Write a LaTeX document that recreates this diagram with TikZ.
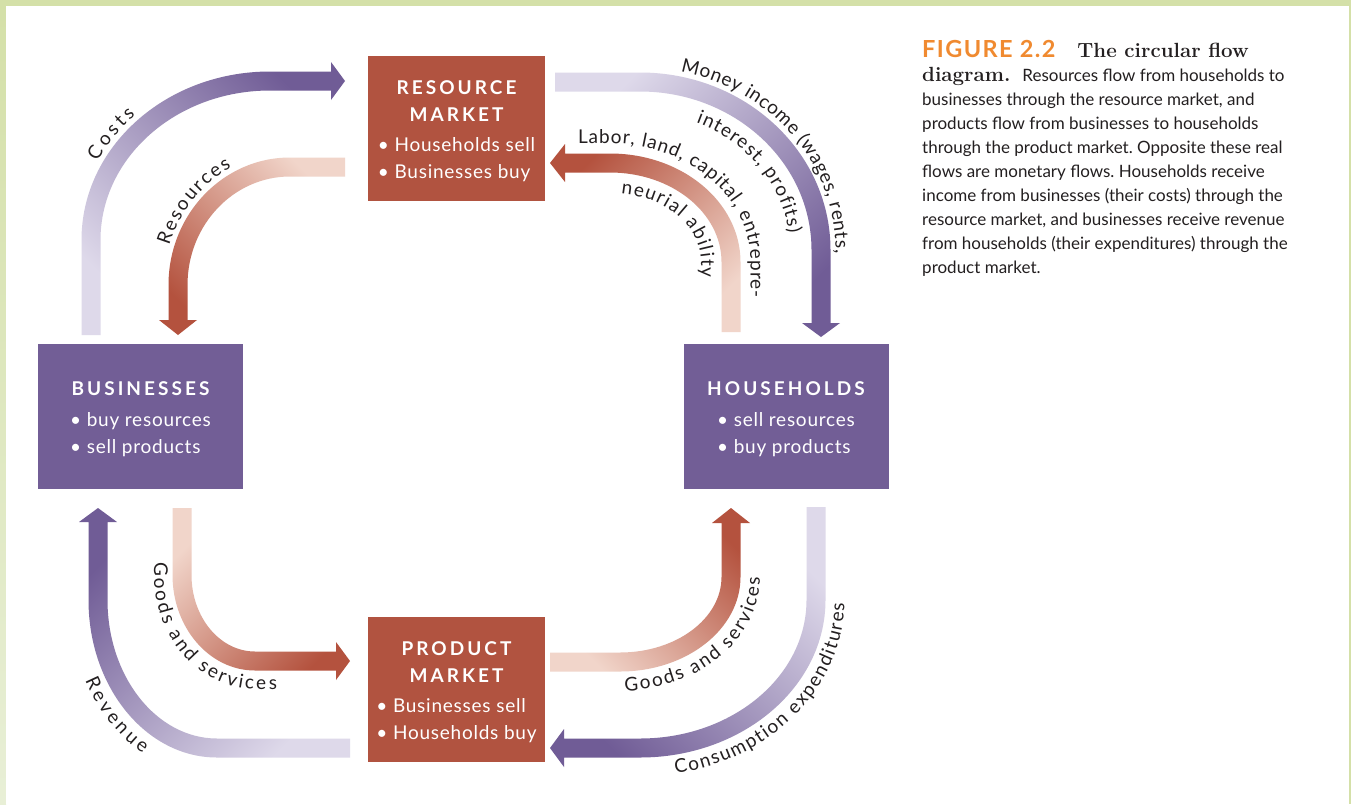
\documentclass[tikz,border=0pt]{standalone}
\usepackage{fontspec}
\newfontfamily\boxfont{Lato}[LetterSpace=4]
\newfontfamily\headfont{Lato}[LetterSpace=16]
\newfontfamily\figfont{Lato}[LetterSpace=6]
\newfontfamily\capfont{Lato}
\newfontfamily\labelfont{Lato}
\usetikzlibrary{decorations.text}

\definecolor{mktred}{RGB}{177,83,64}
\definecolor{secpurple}{RGB}{114,94,150}
\definecolor{flowpurple}{RGB}{112,92,150}
\definecolor{flowlilac}{RGB}{222,217,234}
\definecolor{flowred}{RGB}{180,82,62}
\definecolor{flowpink}{RGB}{241,213,202}
\definecolor{figorange}{RGB}{240,138,48}
\definecolor{inkgray}{RGB}{35,31,32}
\definecolor{framegreen}{RGB}{212,224,168}
\definecolor{framepale}{RGB}{232,239,214}

\newcommand\lblfont{\labelfont\fontsize{19}{22}\selectfont}
\newcommand\boxhead[1]{{\headfont\bfseries #1}}
\newcommand\capserif[1]{{\rmfamily\bfseries\fontsize{20.5}{24}\selectfont #1}}

\tikzset{
  market/.style={rectangle, fill=mktred, text=white, minimum width=177pt, minimum height=145pt, inner sep=0pt, align=center, font=\boxfont\fontsize{19}{27}\selectfont},
  sector/.style={market, fill=secpurple, minimum width=205pt},
  flowtext/.style={decorate, decoration={text along path, text align=fit to path, text color=inkgray}}
}

\begin{document}
\frenchspacing
\begin{tikzpicture}[x=1pt, y=-1pt]
\useasboundingbox (0,0) rectangle (1351,804);
\fill [framegreen] (0,0) rectangle (1351,804);
\shade [top color=framegreen, bottom color=framepale] (0,0) rectangle (6,804);
\fill [white] (6,6) rectangle (1349,804);

\node [market] (rm) at (456.5,128.5) {\rule{0pt}{25pt}\boxhead{RESOURCE}\\\boxhead{MARKET}\\[3pt]\begin{tabular}[t]{@{}l@{}}• Households sell\\• Businesses buy\end{tabular}};
\node [sector] (biz) at (140.5,416.5) {\rule{0pt}{25pt}\boxhead{BUSINESSES}\\[4pt]\begin{tabular}[t]{@{}l@{}}• buy resources\\• sell products\end{tabular}};
\node [sector] (hh) at (786,416.5) {\rule{0pt}{25pt}\boxhead{HOUSEHOLDS}\\[4pt]\begin{tabular}[t]{@{}l@{}}• sell resources\\• buy products\end{tabular}};
\node [market] (pm) at (456.5,689.5) {\rule{0pt}{25pt}\boxhead{PRODUCT}\\\boxhead{MARKET}\\[3pt]\begin{tabular}[t]{@{}l@{}}• Businesses sell\\• Households buy\end{tabular}};

\shade [bottom color=flowlilac, top color=flowpurple, shading angle=-45] (81.5,335) -- (81.5,240) arc [start angle=180, end angle=270, x radius=188.5, y radius=168.5] -- (331,71.5) -- (331,62) -- (345,81) -- (331,100) -- (331,90.5) -- (270,90.5) arc [start angle=270, end angle=180, x radius=169.5, y radius=149.5] -- (100.5,335) -- cycle;
\shade [top color=flowpink, bottom color=flowred, shading angle=-45] (345,157.5) -- (290,157.5) arc [start angle=270, end angle=180, x radius=121.5, y radius=127.5] -- (168.5,320) -- (159,320) -- (178,335) -- (197,320) -- (187.5,320) -- (187.5,285) arc [start angle=180, end angle=270, x radius=102.5, y radius=108.5] -- (345,176.5) -- cycle;
\shade [top color=flowlilac, bottom color=flowpurple, shading angle=45] (555,72.5) -- (640,72.5) arc [start angle=270, end angle=360, x radius=190.5, y radius=177.5] -- (830.5,323) -- (840,323) -- (821,337) -- (802,323) -- (811.5,323) -- (811.5,250) arc [start angle=0, end angle=-90, x radius=171.5, y radius=158.5] -- (555,91.5) -- cycle;
\shade [top color=flowred, bottom color=flowpink, shading angle=45] (740.5,332) -- (740.5,262) arc [start angle=0, end angle=-90, x radius=130.5, y radius=108.5] -- (565,153.5) -- (565,144) -- (550,163) -- (565,182) -- (565,172.5) -- (610,172.5) arc [start angle=270, end angle=360, x radius=111.5, y radius=89.5] -- (721.5,332) -- cycle;
\shade [top color=flowpink, bottom color=flowred, shading angle=45] (172.5,508) -- (172.5,575) arc [start angle=180, end angle=90, x radius=82.5, y radius=95.5] -- (336,670.5) -- (336,680) -- (350,661) -- (336,642) -- (336,651.5) -- (255,651.5) arc [start angle=90, end angle=180, x radius=63.5, y radius=76.5] -- (191.5,508) -- cycle;
\shade [top color=flowpurple, bottom color=flowlilac, shading angle=45] (350,757.5) -- (217,757.5) arc [start angle=90, end angle=180, x radius=128.5, y radius=157.5] -- (88.5,522) -- (79,522) -- (98,508) -- (117,522) -- (107.5,522) -- (107.5,600) arc [start angle=180, end angle=90, x radius=109.5, y radius=138.5] -- (350,738.5) -- cycle;
\shade [top color=flowred, bottom color=flowpink, shading angle=-45] (550,671.5) -- (620,671.5) arc [start angle=90, end angle=0, x radius=120.5, y radius=94.5] -- (740.5,523) -- (750,523) -- (731,508) -- (712,523) -- (721.5,523) -- (721.5,577) arc [start angle=0, end angle=90, x radius=101.5, y radius=75.5] -- (550,652.5) -- cycle;
\shade [top color=flowlilac, bottom color=flowpurple, shading angle=-45] (825.5,507) -- (825.5,600) arc [start angle=0, end angle=90, x radius=185.5, y radius=157.5] -- (564,757.5) -- (564,767) -- (550,748) -- (564,729) -- (564,738.5) -- (640,738.5) arc [start angle=90, end angle=0, x radius=166.5, y radius=138.5] -- (806.5,507) -- cycle;

\path [flowtext, decoration={text={|\lblfont|Costs}}] ([shift={(207:193.5 and 173.5)}]270,240) arc [start angle=207, end angle=226, x radius=193.5, y radius=173.5];
\path [flowtext, decoration={text={|\lblfont|Resources}}] ([shift={(197.5:126.5 and 132.5)}]290,285) arc [start angle=197.5, end angle=242.5, x radius=126.5, y radius=132.5];
\path [flowtext, decoration={text={|\lblfont|Money income (wages, rents,}}] ([shift={(282:195.5 and 182.5)}]640,250) arc [start angle=282, end angle=361, x radius=195.5, y radius=182.5];
\path [flowtext, decoration={text={|\lblfont|interest, profits)}}] ([shift={(292:150 and 137)}]640,250) arc [start angle=292, end angle=353, x radius=150, y radius=137];
\path [flowtext, decoration={text={|\lblfont|Labor, land, capital, entrepre-}}] (578,143.5) -- (610,143.5) arc [start angle=270, end angle=360, x radius=140.5, y radius=118.5] -- (750.5,298);
\path [flowtext, decoration={text={|\lblfont|neurial ability}}] ([shift={(277:91 and 69)}]610,262) arc [start angle=277, end angle=360, x radius=91, y radius=69] -- (701,277);
\path [flowtext, decoration={text={|\lblfont|Goods and services}}] (154,562) -- (154,575) arc [start angle=180, end angle=90, x radius=101, y radius=114] -- (277,689);
\path [flowtext, decoration={text={|\lblfont|Revenue}}] ([shift={(153:148 and 177)}]217,600) arc [start angle=153, end angle=120, x radius=148, y radius=177];
\path [flowtext, decoration={text={|\lblfont|Goods and services}}] ([shift={(88:140 and 114)}]620,577) arc [start angle=88, end angle=0, x radius=140, y radius=114];
\path [flowtext, decoration={text={|\lblfont|Consumption expenditures}}] ([shift={(80:204.5 and 176.5)}]640,600) arc [start angle=80, end angle=1, x radius=204.5, y radius=176.5];

\node [anchor=north west, inner sep=0pt, align=left, text=inkgray, font=\capfont\fontsize{17}{24}\selectfont] (caption) at (922,40) {{\figfont\bfseries\fontsize{23.5}{24}\selectfont\color{figorange}FIGURE 2.2}\hspace{22pt}\capserif{The circular flow}\\\capserif{diagram.}\hspace{12pt}Resources flow from households to\\businesses through the resource market, and\\products flow from businesses to households\\through the product market. Opposite these real\\flows are monetary flows. Households receive\\income from businesses (their costs) through the\\resource market, and businesses receive revenue\\from households (their expenditures) through the\\product market.};
\end{tikzpicture}
\end{document}
